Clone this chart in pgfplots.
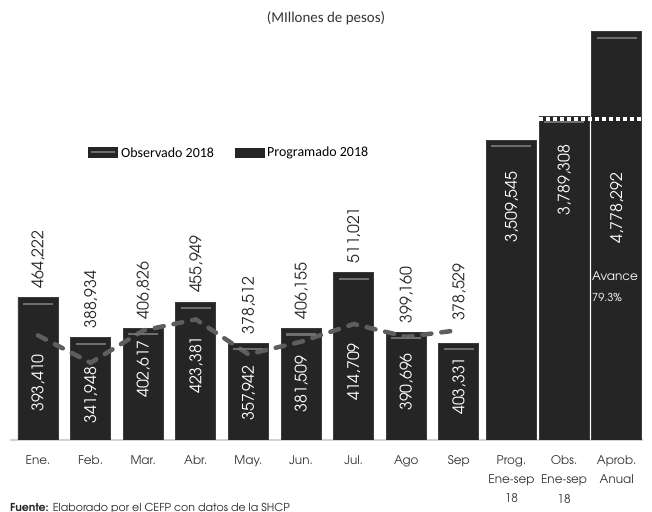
\documentclass[border=0pt]{standalone}
\usepackage{pgfplots}
\pgfplotsset{compat=1.18}
\usepackage{pgfplotstable}
\usepackage{fontspec}
\newfontfamily\gothic[Extension=.otf,UprightFont=*-regular,BoldFont=*-bold]{texgyreadventor}
\newfontfamily\calib{Carlito}
\definecolor{barfill}{HTML}{252525}
\definecolor{baredge}{HTML}{3C3C3C}
\definecolor{hilite}{HTML}{6E6E6E}
\definecolor{dashc}{HTML}{5E5E5E}

% monthly: programado (bar), observado (dashed line), label positions
\pgfplotstableread{
x prog plab ty obs olab ly
0 464222 464,222 464222 393410 393,410 304060
1 388934 388,934 388934 341948 341,948 281543
2 406826 406,826 406826 402617 402,617 330332
3 455949 455,949 455949 423381 423,381 337838
4 378512 378,512 378512 357942 357,942 285296
5 406155 406,155 406155 381509 381,509 302184
6 511021 511,021 511021 414709 414,709 324702
7 399160 399,160 399160 390696 390,696 305937
8 378529 378,529 403331 403331 403,331 298431
}\monthly

% accumulated (different scale)
\pgfplotstableread{
x val lab ly
9 3509545 3,509,545 2727265
10 3789308 3,789,308 3043300
11 4778292 4,778,292 2715560
}\accum

\pgfplotsset{base/.style={
    at={(10bp,72bp)}, anchor=south west, scale only axis,
    width=633bp, height=420bp,
    xmin=-0.532, xmax=11.5,
}}

\begin{document}
\begin{tikzpicture}
\path[use as bounding box] (0,0) rectangle (652bp,512bp);

\begin{axis}[
    base,
    ymin=197100, ymax=985230,
    axis x line*=bottom, axis y line=none,
    x axis line style={draw=black!18, line width=1.6bp, -},
    xtick={0,...,11},
    xticklabels={Ene.,Feb.,Mar.,Abr.,May.,Jun.,Jul.,Ago,Sep,{Prog.\\[3.5bp]Ene-sep\\[3.5bp]18},{Obs.\\[3.5bp]Ene-sep\\[3.5bp]18},{Aprob.\\[3.5bp]Anual}},
    major tick length=0pt,
    xticklabel style={font=\gothic\fontsize{12}{16}\selectfont, text=black!80,
        align=center, anchor=north, inner sep=0pt, yshift=-15bp},
]
\addplot[ybar, bar width=0.76, bar shift=0pt, fill=barfill, draw=baredge, line width=0.8bp]
    table[x=x, y=prog]{\monthly};
\addplot[only marks, mark=-, mark size=15bp,
    mark options={draw=hilite, line width=2.2bp, yshift=-6bp}]
    table[x=x, y=prog]{\monthly};
\addplot[dashc, line width=4.5bp, dash pattern=on 9bp off 10bp, line cap=round]
    table[x=x, y=obs]{\monthly};
\addplot[draw=none, nodes near coords, point meta=explicit symbolic,
    every node near coord/.style={rotate=90, anchor=west, inner xsep=9bp, inner ysep=0pt,
        text=black!85, font=\gothic\fontsize{16}{18}\selectfont}]
    table[x=x, y=ty, meta=plab]{\monthly};
\addplot[draw=none, nodes near coords, point meta=explicit symbolic,
    every node near coord/.style={rotate=90, anchor=center, inner sep=0pt,
        text=white, font=\gothic\fontsize{16}{18}\selectfont}]
    table[x=x, y=ly, meta=olab]{\monthly};
\end{axis}

\begin{axis}[
    base,
    ymin=0, ymax=4916100,
    axis lines=none,
]
\addplot[ybar, bar width=0.95, bar shift=0pt, fill=barfill, draw=baredge, line width=0.8bp]
    table[x=x, y=val]{\accum};
\addplot[only marks, mark=-, mark size=20bp,
    mark options={draw=hilite, line width=2.2bp, yshift=-6bp}]
    table[x=x, y=val]{\accum};
\addplot[white, line width=3.5bp, dash pattern=on 4bp off 3bp]
    coordinates {(9.53,3760000) (11.47,3760000)};
\addplot[draw=none, nodes near coords, point meta=explicit symbolic,
    every node near coord/.style={rotate=90, anchor=center, inner sep=0pt,
        text=white, font=\gothic\fontsize{16}{18}\selectfont}]
    table[x=x, y=ly, meta=lab]{\accum};
\node[anchor=west, inner sep=0pt, text=white, font=\gothic\fontsize{12}{14}\selectfont]
    at (axis cs:10.53,1919620) {Avance};
\node[anchor=west, inner sep=0pt, text=white, font=\gothic\fontsize{11}{13}\selectfont]
    at (axis cs:10.53,1673815) {79.3\%};
\end{axis}

% title
\node[font=\calib\fontsize{15}{18}\selectfont, text=black!80] at (326bp,494bp) {(MIllones de pesos)};

% legend
\fill[barfill] (88bp,354bp) rectangle (118bp,365bp);
\draw[hilite, line width=2bp] (91bp,359.5bp) -- (115bp,359.5bp);
\node[anchor=west, inner sep=0pt, font=\calib\fontsize{14}{16}\selectfont] at (121bp,359.5bp) {Observado 2018};
\fill[barfill] (235bp,354bp) rectangle (265bp,364bp);
\node[anchor=west, inner sep=0pt, font=\calib\fontsize{14}{16}\selectfont] at (267bp,359.5bp) {Programado 2018};

% source
\node[anchor=north west, inner sep=0pt, text=black!85, font=\gothic\fontsize{11}{13}\selectfont]
    at (10bp,9bp) {\textbf{Fuente:} Elaborado por el CEFP con datos de la SHCP};
\end{tikzpicture}
\end{document}
